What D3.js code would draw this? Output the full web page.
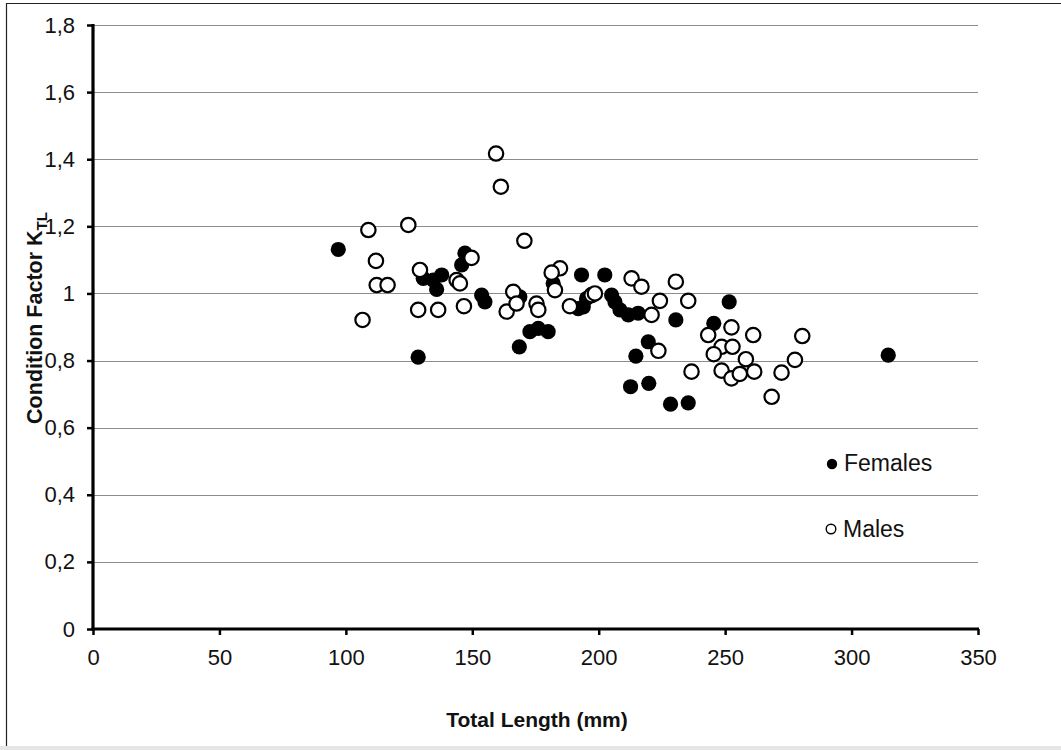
<!DOCTYPE html>
<html><head><meta charset="utf-8">
<script src="https://cdn.jsdelivr.net/npm/d3@7"></script>
<style>body{margin:0;background:#fff}svg{display:block}text{font-family:"Liberation Sans",Arial,sans-serif}</style>
</head><body>
<svg id="c" width="1061" height="750"></svg>
<script>
const xTicks = [0,50,100,150,200,250,300,350];
const yTicks = [0,0.2,0.4,0.6,0.8,1,1.2,1.4,1.6,1.8];
const yTickLabels = ["0","0,2","0,4","0,6","0,8","1","1,2","1,4","1,6","1,8"];
const femalesTL = [97.0,128.6,130.6,134.6,137.9,135.9,145.8,147.1,153.7,155.0,168.8,168.6,172.8,176.1,180.0,182.0,193.2,191.9,193.9,195.2,202.4,205.1,206.4,208.4,211.7,215.6,230.5,251.6,245.5,219.6,214.7,212.6,219.8,228.4,235.4,314.5];
const femalesK  = [1.131,0.810,1.045,1.040,1.055,1.012,1.085,1.120,0.995,0.975,0.990,0.841,0.886,0.896,0.886,1.030,1.055,0.955,0.960,0.985,1.055,0.995,0.975,0.951,0.936,0.941,0.921,0.975,0.911,0.856,0.813,0.722,0.732,0.670,0.674,0.816];
const malesTL = [159.4,161.3,108.9,124.7,170.6,111.9,112.2,116.5,129.3,149.7,143.8,145.1,184.7,181.4,182.7,106.6,128.6,136.5,146.7,163.6,166.2,167.5,175.4,176.1,188.6,197.2,198.5,213.0,216.9,230.5,220.9,224.2,235.4,252.5,243.3,261.1,280.5,248.6,252.9,245.5,258.2,277.6,248.6,252.5,255.8,261.5,272.3,236.7,223.6,268.4];
const malesK  = [1.417,1.318,1.189,1.204,1.157,1.097,1.025,1.025,1.070,1.106,1.040,1.030,1.075,1.062,1.010,0.921,0.951,0.951,0.962,0.946,1.005,0.970,0.970,0.951,0.962,0.995,1.000,1.045,1.020,1.035,0.936,0.978,0.978,0.899,0.876,0.876,0.873,0.841,0.841,0.819,0.804,0.802,0.770,0.747,0.760,0.767,0.764,0.767,0.829,0.692];
const seriesNames = ["Females","Males"];

const svg = d3.select("#c");
const L=93, R=978, T=25, B=629;
const x = d3.scaleLinear().domain([0,350]).range([L,R]);
const y = d3.scaleLinear().domain([0,1.8]).range([B,T]);

// frame
svg.append("line").attr("x1",6.5).attr("x2",6.5).attr("y1",3).attr("y2",747).attr("stroke","#222").attr("stroke-width",1.2);
svg.append("line").attr("x1",6).attr("x2",1061).attr("y1",3.5).attr("y2",3.5).attr("stroke","#222").attr("stroke-width",1.2);
svg.append("rect").attr("x",0).attr("y",746).attr("width",1061).attr("height",4).attr("fill","#e6e6e6");

// gridlines
svg.append("g").selectAll("line").data(yTicks.filter(d=>d>0)).join("line")
  .attr("x1",L).attr("x2",R).attr("y1",d=>Math.round(y(d))+0.5).attr("y2",d=>Math.round(y(d))+0.5)
  .attr("stroke","#8c8c8c").attr("stroke-width",1.2);

// y axis
const yAxis = d3.axisLeft(y).tickValues(yTicks).tickFormat((d,i)=>yTickLabels[i]).tickSize(6).tickPadding(12);
const gy = svg.append("g").attr("transform",`translate(${L},0)`).call(yAxis);
gy.select(".domain").remove();
gy.selectAll(".tick line").attr("stroke","#000").attr("stroke-width",2.5);
gy.selectAll(".tick text").attr("font-size",22).attr("fill","#111").attr("font-family","Liberation Sans, Arial, sans-serif");

// x axis
const xAxis = d3.axisBottom(x).tickValues(xTicks).tickFormat(d3.format("d")).tickSize(6).tickPadding(14);
const gx = svg.append("g").attr("transform",`translate(0,${B})`).call(xAxis);
gx.select(".domain").remove();
gx.selectAll(".tick line").attr("stroke","#000").attr("stroke-width",2.5);
gx.selectAll(".tick text").attr("font-size",22).attr("fill","#111").attr("font-family","Liberation Sans, Arial, sans-serif");

// axis lines
svg.append("line").attr("x1",L).attr("x2",L).attr("y1",T-1).attr("y2",B+1.5).attr("stroke","#000").attr("stroke-width",3.2);
svg.append("line").attr("x1",L-1.5).attr("x2",R+1).attr("y1",B).attr("y2",B).attr("stroke","#000").attr("stroke-width",3.2);

// points
const fem = femalesTL.map((v,i)=>({tl:v,k:femalesK[i]}));
const mal = malesTL.map((v,i)=>({tl:v,k:malesK[i]}));
svg.append("g").selectAll("circle").data(fem).join("circle")
  .attr("cx",d=>x(d.tl)).attr("cy",d=>y(d.k)).attr("r",7.6).attr("fill","#000");
svg.append("g").selectAll("circle").data(mal).join("circle")
  .attr("cx",d=>x(d.tl)).attr("cy",d=>y(d.k)).attr("r",7.2).attr("fill","#fff").attr("stroke","#000").attr("stroke-width",2.2);

// axis titles
svg.append("text").attr("x",537).attr("y",727).attr("text-anchor","middle")
  .attr("font-size",21).attr("font-weight","bold").attr("fill","#111").text("Total Length (mm)");
const yt = svg.append("text").attr("transform","translate(42,318) rotate(-90)").attr("text-anchor","middle")
  .attr("font-size",21.5).attr("font-weight","bold").attr("fill","#111");
yt.append("tspan").text("Condition Factor K");
yt.append("tspan").attr("font-size",15).attr("dy",5).text("TL");

// legend
svg.append("circle").attr("cx",832).attr("cy",464).attr("r",5.2).attr("fill","#000");
svg.append("text").attr("x",844).attr("y",471).attr("font-size",23).attr("fill","#111").text(seriesNames[0]);
svg.append("circle").attr("cx",831).attr("cy",529).attr("r",4.8).attr("fill","#fff").attr("stroke","#000").attr("stroke-width",1.4);
svg.append("text").attr("x",843).attr("y",537).attr("font-size",23).attr("fill","#111").text(seriesNames[1]);
</script>
</body></html>
